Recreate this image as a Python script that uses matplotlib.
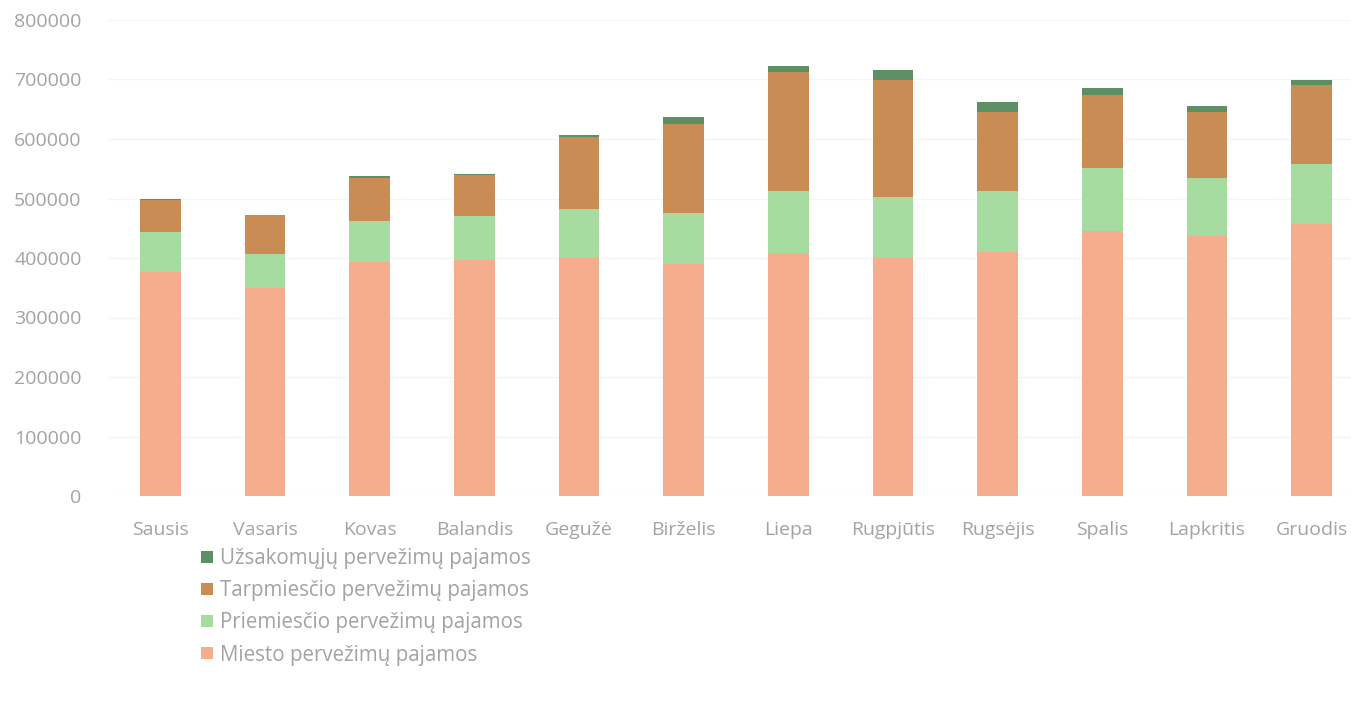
import matplotlib
matplotlib.use('Agg')
import matplotlib.pyplot as plt
import numpy as np

# monthly revenue by transport type
months = ['Sausis', 'Vasaris', 'Kovas', 'Balandis', 'Gegužė', 'Birželis',
          'Liepa', 'Rugpjūtis', 'Rugsėjis', 'Spalis', 'Lapkritis', 'Gruodis']
miesto = [377000, 350000, 393000, 397000, 400000, 390000,
          408000, 400000, 410000, 445000, 437000, 457000]
priemiescio = [66000, 57000, 70000, 74000, 83000, 85000,
               105000, 102000, 103000, 107000, 97000, 101000]
tarpmiescio = [55000, 65000, 72000, 68000, 120000, 150000,
               200000, 198000, 133000, 122000, 112000, 132000]
uzsakomuju = [1500, 1000, 3000, 3000, 3000, 12000,
              10000, 16000, 17000, 11000, 10000, 10000]

series = [
    ('Miesto pervežimų pajamos', miesto, '#F6AD8D'),
    ('Priemiesčio pervežimų pajamos', priemiescio, '#A6DCA0'),
    ('Tarpmiesčio pervežimų pajamos', tarpmiescio, '#C98C54'),
    ('Užsakomųjų pervežimų pajamos', uzsakomuju, '#5C9064'),
]

plt.rcParams['font.family'] = ['Open Sans', 'DejaVu Sans']
text_color = '#a3a3a3'

fig = plt.figure(figsize=(13.51, 7.28), dpi=100)
W, H = 1351, 728
ax = fig.add_axes([108 / W, (H - 496) / H, (W - 108) / W, 476 / H])

x = np.arange(len(months))
bottom = np.zeros(len(months))
bars = []
for label, vals, color in series:
    b = ax.bar(x, vals, width=0.39, bottom=bottom, color=color, label=label, zorder=2)
    bars.append(b)
    bottom += np.array(vals)

ax.set_ylim(0, 800000)
ax.set_xlim(-0.5, 11.5 - 13 / 104.7)
ax.set_yticks(np.arange(0, 800001, 100000))
ax.set_xticks(x)
ax.set_xticklabels(months)
ax.yaxis.grid(True, color='#f5f5f5', linewidth=1, zorder=0)
ax.tick_params(axis='both', length=0, colors=text_color, labelsize=14)
ax.tick_params(axis='y', pad=19)
ax.tick_params(axis='x', pad=18)
for s in ax.spines.values():
    s.set_visible(False)

handles = bars[::-1]
labels = [s[0] for s in series][::-1]
leg = fig.legend(handles, labels, loc='upper left', bbox_to_anchor=(193 / W, 1 - 540 / H),
                 frameon=False, fontsize=14.8, handlelength=0.55, handleheight=0.55,
                 handletextpad=0.35, labelspacing=0.54, borderaxespad=0)
for t in leg.get_texts():
    t.set_color(text_color)

fig.savefig('out.png', dpi=100)
plt.close(fig)
